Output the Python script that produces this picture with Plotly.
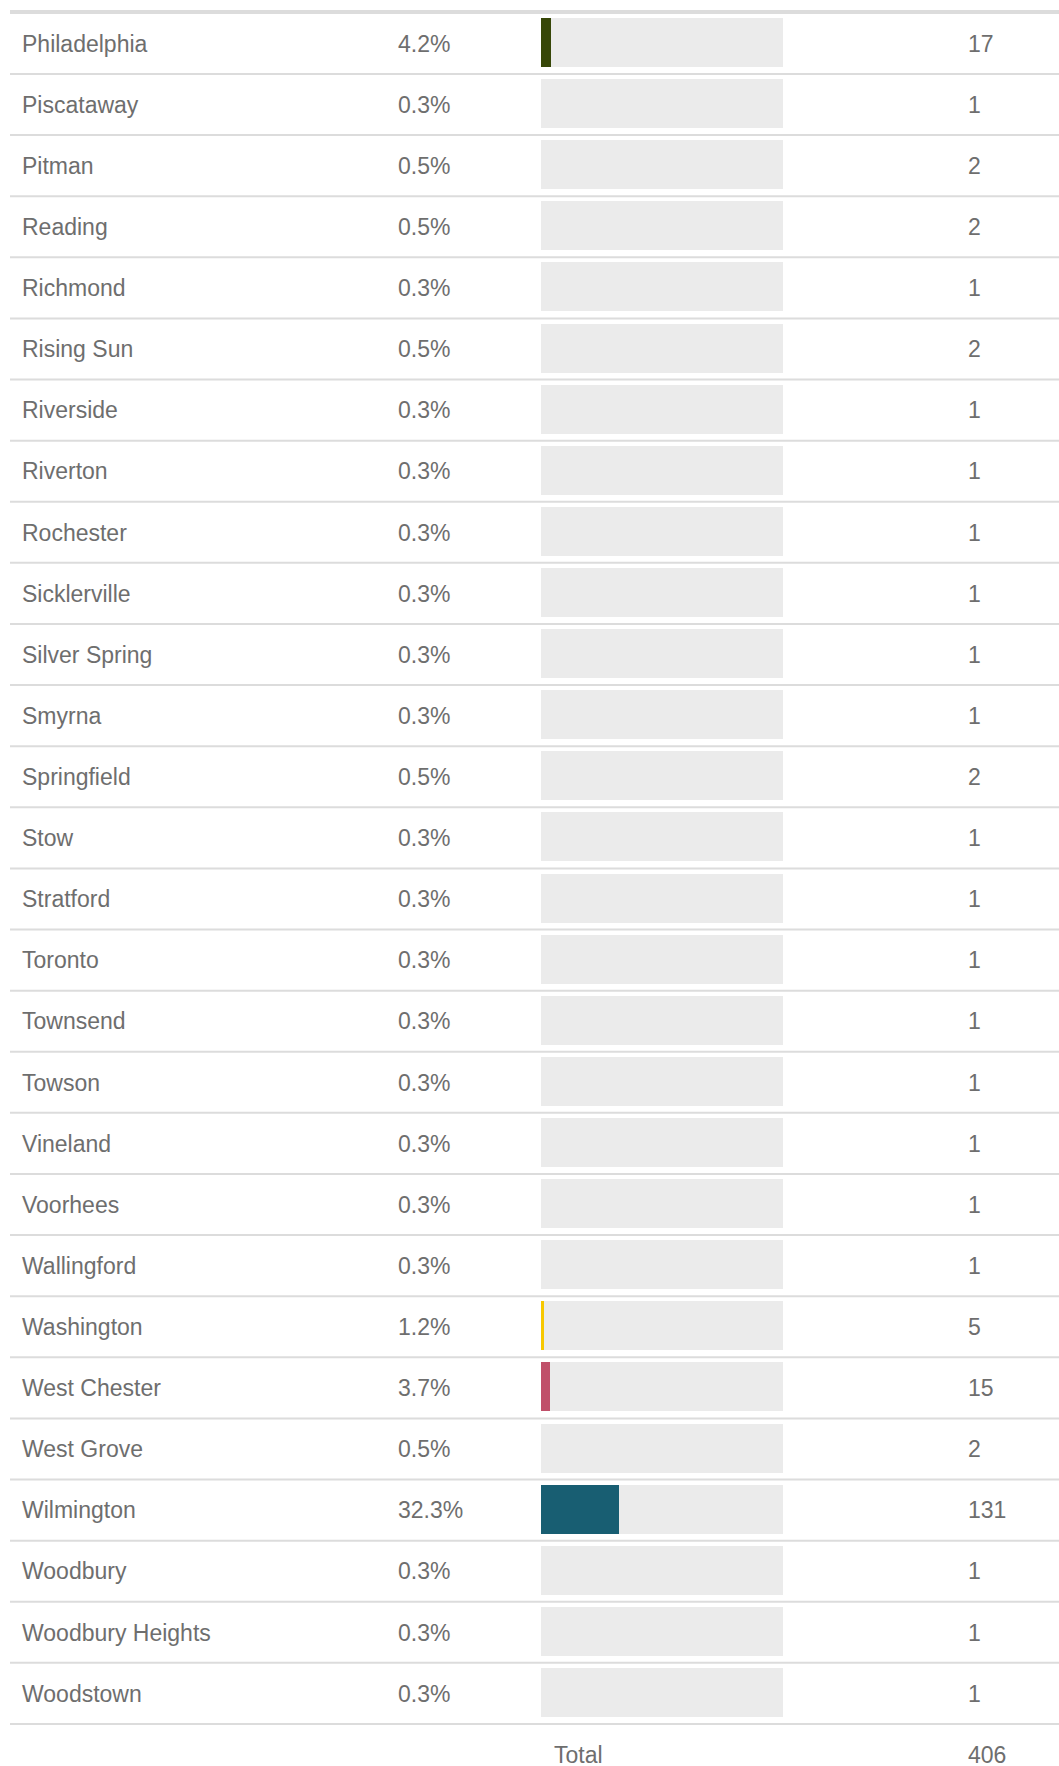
import plotly.graph_objects as go

cities = ["Philadelphia", "Piscataway", "Pitman", "Reading", "Richmond", "Rising Sun",
          "Riverside", "Riverton", "Rochester", "Sicklerville", "Silver Spring", "Smyrna",
          "Springfield", "Stow", "Stratford", "Toronto", "Townsend", "Towson", "Vineland",
          "Voorhees", "Wallingford", "Washington", "West Chester", "West Grove", "Wilmington",
          "Woodbury", "Woodbury Heights", "Woodstown"]
counts = [17, 1, 2, 2, 1, 2, 1, 1, 1, 1, 1, 1, 2, 1, 1, 1, 1, 1, 1, 1, 1, 5, 15, 2, 131, 1, 1, 1]
percents = [4.2, 0.3, 0.5, 0.5, 0.3, 0.5, 0.3, 0.3, 0.3, 0.3, 0.3, 0.3, 0.5, 0.3, 0.3, 0.3,
            0.3, 0.3, 0.3, 0.3, 0.3, 1.2, 3.7, 0.5, 32.3, 0.3, 0.3, 0.3]
total_label = "Total"
total_count = 406

highlight_colors = {
    "Philadelphia": "#374708",
    "Washington": "#f7c800",
    "West Chester": "#c0506a",
    "Wilmington": "#185e72",
}
track_color = "#ebebeb"
text_color = "#6e6e6e"
line_color = "#dcdcdc"
FONT = "Liberation Sans, Arial, Helvetica, sans-serif"
W, H = 1059, 1766
TEXT_DY = 0.055  # small downward shift of text baseline within each row

n = len(cities)
rows = list(range(n))
text_rows = [r + TEXT_DY for r in rows]
bar_colors = [highlight_colors.get(c, track_color) for c in cities]

fig = go.Figure()

# background tracks (100%)
fig.add_trace(go.Bar(
    y=rows, x=[100] * n, orientation="h", marker_color=track_color, marker_line_width=0,
    width=0.802, hoverinfo="skip", showlegend=False, xaxis="x", yaxis="y"))
# value bars
fig.add_trace(go.Bar(
    y=rows, x=percents, orientation="h", marker_color=bar_colors, marker_line_width=0,
    width=0.802, showlegend=False, xaxis="x", yaxis="y",
    customdata=counts, hovertemplate="%{customdata} (%{x}%)<extra></extra>"))

tfont = dict(family=FONT, size=23, color=text_color)
# city names
fig.add_trace(go.Scatter(
    x=[22] * n, y=text_rows, text=cities, mode="text", textposition="middle right",
    textfont=tfont, xaxis="x2", yaxis="y", showlegend=False, hoverinfo="skip"))
# percents
fig.add_trace(go.Scatter(
    x=[398] * n, y=text_rows, text=[f"{p:.1f}%" for p in percents], mode="text",
    textposition="middle right", textfont=tfont, xaxis="x2", yaxis="y",
    showlegend=False, hoverinfo="skip"))
# counts + total
fig.add_trace(go.Scatter(
    x=[968] * (n + 1), y=text_rows + [n + TEXT_DY],
    text=[str(c) for c in counts] + [str(total_count)],
    mode="text", textposition="middle right", textfont=tfont, xaxis="x2", yaxis="y",
    showlegend=False, hoverinfo="skip", cliponaxis=False))
fig.add_trace(go.Scatter(
    x=[554], y=[n + TEXT_DY], text=[total_label], mode="text", textposition="middle right",
    textfont=tfont, xaxis="x2", yaxis="y", showlegend=False, hoverinfo="skip",
    cliponaxis=False))

shapes = [dict(type="line", xref="paper", yref="y", x0=10 / W, x1=1, y0=-0.5, y1=-0.5,
               line=dict(color=line_color, width=4))]
for i in rows:
    shapes.append(dict(type="line", xref="paper", yref="y", x0=10 / W, x1=1,
                       y0=i + 0.515, y1=i + 0.515, line=dict(color=line_color, width=2)))

fig.update_layout(
    width=W, height=H, margin=dict(l=0, r=0, t=0, b=0),
    paper_bgcolor="white", plot_bgcolor="rgba(0,0,0,0)", barmode="overlay", bargap=0,
    xaxis=dict(domain=[541 / W, 783 / W], range=[0, 100], visible=False, fixedrange=True),
    xaxis2=dict(domain=[0, 1], range=[0, W], anchor="y", visible=False, fixedrange=True),
    yaxis=dict(range=[28.2027, -0.6955], visible=False, fixedrange=True),
    shapes=shapes,
    font=dict(family=FONT),
)

fig.write_html("out.html", config={"displayModeBar": False},
               post_script="document.body.style.margin='0px';")
